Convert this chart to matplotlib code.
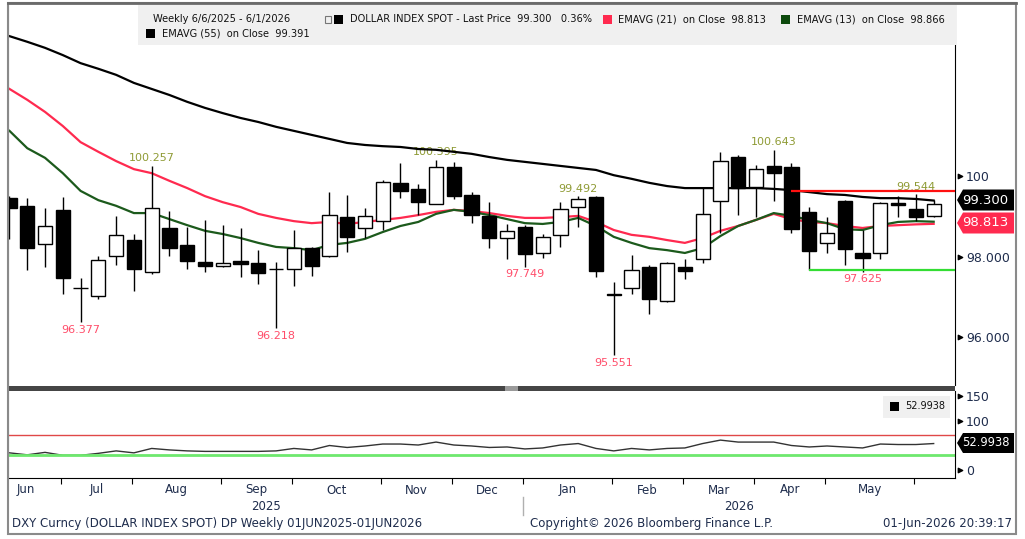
import numpy as np
import pandas as pd
import matplotlib
matplotlib.use('Agg')
import matplotlib.pyplot as plt
from matplotlib.patches import Rectangle, Polygon
from matplotlib.transforms import blended_transform_factory

# weekly bars (week ending friday)
dates = pd.date_range('2025-06-06', periods=53, freq='7D')

opens = [99.45, 99.26, 98.31, 99.16, 97.23, 97.02, 98.01, 98.41, 97.62, 98.71,
         98.29, 97.87, 97.77, 97.89, 97.84, 97.70, 97.69, 98.21, 98.01, 98.98,
         98.71, 98.88, 99.83, 99.68, 99.31, 100.22, 99.53, 99.01, 98.46, 98.73,
         98.09, 98.54, 99.23, 99.48, 97.06, 97.22, 97.74, 96.90, 97.74, 97.94,
         99.38, 100.47, 99.73, 100.25, 100.22, 99.11, 98.34, 99.38, 98.09, 98.09,
         99.33, 99.18, 99.01]
highs = [99.50, 99.45, 99.21, 99.48, 97.47, 98.01, 99.01, 98.56, 100.257, 99.13,
         98.73, 98.91, 98.78, 98.71, 98.16, 97.87, 98.66, 98.23, 99.60, 99.53,
         99.21, 99.90, 100.33, 99.80, 100.395, 100.35, 99.60, 99.35, 98.81, 98.78,
         98.56, 99.35, 99.492, 99.50, 97.37, 98.04, 97.79, 97.87, 97.94, 99.73,
         100.60, 100.52, 100.27, 100.643, 100.32, 99.23, 98.98, 99.40, 98.66, 99.35,
         99.50, 99.544, 99.40]
lows = [98.44, 97.67, 97.74, 97.07, 96.377, 96.95, 97.79, 97.15, 97.57, 98.01,
        97.69, 97.62, 97.74, 97.49, 97.32, 96.218, 97.27, 97.52, 97.99, 98.11,
        98.46, 98.66, 99.45, 99.03, 99.30, 99.43, 98.83, 98.21, 97.94, 97.749,
        97.97, 98.24, 98.73, 97.49, 95.551, 97.07, 96.58, 96.88, 97.44, 97.84,
        98.59, 99.03, 98.98, 99.38, 98.59, 97.66, 98.09, 97.79, 97.625, 97.94,
        98.98, 98.88, 98.98]
closes = [99.21, 98.21, 98.76, 97.47, 97.22, 97.92, 98.54, 97.69, 99.21, 98.21,
          97.89, 97.77, 97.84, 97.82, 97.59, 97.69, 98.21, 97.77, 99.03, 98.49,
          99.01, 99.85, 99.63, 99.35, 100.22, 99.50, 99.03, 98.46, 98.64, 98.06,
          98.49, 99.18, 99.43, 97.64, 97.05, 97.67, 96.95, 97.84, 97.64, 99.06,
          100.37, 99.70, 100.17, 100.07, 98.68, 98.14, 98.59, 98.19, 97.97, 99.33,
          99.28, 98.98, 99.30]

ema55 = [103.47, 103.33, 103.18, 103.00, 102.80, 102.66, 102.51, 102.31, 102.16, 102.01,
         101.84, 101.69, 101.56, 101.44, 101.34, 101.22, 101.12, 101.02, 100.92, 100.82,
         100.77, 100.74, 100.72, 100.67, 100.65, 100.60, 100.55, 100.47, 100.40, 100.35,
         100.30, 100.25, 100.20, 100.15, 100.02, 99.93, 99.83, 99.75, 99.70, 99.70,
         99.70, 99.70, 99.70, 99.68, 99.65, 99.60, 99.55, 99.53, 99.48, 99.45,
         99.45, 99.43, 99.391]
ema21 = [102.16, 101.89, 101.59, 101.24, 100.84, 100.60, 100.37, 100.17, 100.07, 99.88,
         99.70, 99.50, 99.35, 99.23, 99.06, 98.96, 98.88, 98.83, 98.86, 98.81,
         98.86, 98.91, 98.96, 99.03, 99.11, 99.16, 99.13, 99.08, 99.01, 98.96,
         98.96, 98.98, 99.01, 98.86, 98.66, 98.54, 98.49, 98.41, 98.34, 98.46,
         98.64, 98.76, 98.91, 99.06, 98.93, 98.86, 98.83, 98.76, 98.71, 98.76,
         98.78, 98.80, 98.813]
ema13 = [101.12, 100.69, 100.45, 100.07, 99.63, 99.40, 99.26, 99.08, 99.08, 98.93,
         98.78, 98.64, 98.56, 98.46, 98.34, 98.24, 98.21, 98.16, 98.29, 98.34,
         98.44, 98.61, 98.76, 98.86, 99.06, 99.16, 99.11, 99.03, 98.93, 98.83,
         98.81, 98.86, 98.96, 98.76, 98.49, 98.34, 98.21, 98.16, 98.09, 98.21,
         98.51, 98.76, 98.91, 99.08, 99.01, 98.91, 98.83, 98.68, 98.66, 98.78,
         98.86, 98.88, 98.866]
rsi = [34, 30, 35, 29, 29, 33, 38, 34, 43, 40,
       38, 37, 37, 37, 37, 38, 43, 40, 49, 45,
       48, 52, 52, 50, 56, 50, 48, 45, 46, 42,
       44, 50, 53, 43, 38, 43, 40, 43, 44, 53,
       60, 56, 56, 56, 49, 46, 48, 46, 44, 52,
       51, 51, 52.9938]

hi_marks = [8, 24, 32, 43, 51]
lo_marks = [4, 15, 29, 34, 48]
resist_level, resist_from = 99.62, 44
support_level, support_from = 97.66, 45
rsi_upper, rsi_lower = 70, 30

W, H = 1025, 539
NAVY = '#1f2d4d'
plt.rcParams['font.family'] = ['DejaVu Sans']


def fx(x):
    return x / W


def fy(y):
    return 1 - y / H


fig = plt.figure(figsize=(W / 100, H / 100), dpi=100)
fig.patch.set_facecolor('white')

ax = fig.add_axes([fx(8), fy(385), fx(955) - fx(8), fy(5) - fy(385)])
ax2 = fig.add_axes([fx(8), fy(478), fx(955) - fx(8), fy(391) - fy(478)], sharex=ax)

idx = np.arange(len(closes))
o, h, l, c = map(np.array, (opens, highs, lows, closes))

# candles
ax.vlines(idx, l, h, color='black', lw=1, zorder=3)
up = c >= o
bottom = np.minimum(o, c)
height = np.maximum(np.abs(c - o), 0.005)
ax.bar(idx, height, bottom=bottom, width=0.8, color=np.where(up, 'white', 'black'),
       edgecolor='black', lw=1, zorder=4)

ax.plot(idx, ema55, color='black', lw=1.6, zorder=2)
ax.plot(idx, ema21, color='#ff2a4f', lw=1.6, zorder=2)
ax.plot(idx, ema13, color='#1c5a1c', lw=1.6, zorder=2)

ax.hlines(resist_level, resist_from, 53.2, color='#ff1010', lw=1.6, zorder=5)
ax.hlines(support_level, support_from, 53.2, color='#33dd33', lw=1.6, zorder=5)

for i in hi_marks:
    ax.annotate('%.3f' % highs[i], (i, highs[i]), xytext=(0, 2), textcoords='offset points',
                ha='center', va='bottom', fontsize=8, color='#8f9b35', zorder=1)
for i in lo_marks:
    ax.annotate('%.3f' % lows[i], (i, lows[i]), xytext=(0, -2), textcoords='offset points',
                ha='center', va='top', fontsize=8, color='#ff4d6a', zorder=1)

xl = (-0.084, 53.2)
ax.set_xlim(*xl)
ax.set_ylim(94.814, 104.243)
ax.yaxis.tick_right()
ax.set_yticks([96, 98, 100])
ax.set_yticklabels(['96.000', '98.000', '100'])
ax.tick_params(axis='y', length=0, pad=8, labelsize=9, labelcolor=NAVY)
ax.tick_params(axis='x', bottom=False, labelbottom=False)
for s in ('top', 'bottom'):
    ax.spines[s].set_visible(False)
ax.spines['left'].set_color('#8a8a8a')
ax.spines['right'].set_color('black')
tr = blended_transform_factory(ax.transAxes, ax.transData)
ax.scatter([1.005] * 3, [96, 98, 100], marker='>', s=10, color='black', transform=tr,
           clip_on=False, zorder=6)

# lower panel
ax2.plot(idx, rsi, color='#333333', lw=1)
ax2.axhline(rsi_upper, color='#e04848', lw=1)
ax2.axhline(rsi_lower, color='#6ee86e', lw=2)
ax2.set_ylim(-17.3, 160.2)
ax2.yaxis.tick_right()
ax2.set_yticks([0, 100, 150])
ax2.set_yticklabels(['0', '100', '150'])
ax2.tick_params(axis='y', length=0, pad=8, labelsize=9, labelcolor=NAVY)
ax2.spines['top'].set_visible(False)
ax2.spines['left'].set_color('#8a8a8a')
tr2 = blended_transform_factory(ax2.transAxes, ax2.transData)
ax2.scatter([1.005] * 3, [0, 100, 150], marker='>', s=10, color='black', transform=tr2,
            clip_on=False, zorder=6)

# month ticks: one bar before the first bar of each month
first = [k for k in range(1, len(dates)) if dates[k].month != dates[k - 1].month]
ticks = [k - 1.1 for k in first]
ax2.set_xticks(ticks)
ax2.set_xticklabels([])
ax2.tick_params(axis='x', length=4, direction='out', color='black')
trx = blended_transform_factory(ax2.transData, fig.transFigure)
months = ['Jun', 'Jul', 'Aug', 'Sep', 'Oct', 'Nov', 'Dec', 'Jan', 'Feb', 'Mar', 'Apr', 'May']
edges = [ticks[0] - 4] + ticks
for m, a, b in zip(months, edges[:-1], edges[1:]):
    ax2.text((a + b) / 2, fy(490), m, transform=trx, ha='center', va='center',
             fontsize=8.5, color=NAVY)
jan = ticks[first.index(next(k for k in first if dates[k].month == 1))]
ax2.text((xl[0] + jan) / 2, fy(506), '2025', transform=trx, ha='center', va='center',
         fontsize=8.5, color=NAVY)
ax2.text((jan + xl[1]) / 2, fy(506), '2026', transform=trx, ha='center', va='center',
         fontsize=8.5, color=NAVY)
ax2.plot([jan, jan], [fy(497), fy(515)], color='#b0b0b0', lw=1, transform=trx, clip_on=False)

# frame pieces
fig.add_artist(Rectangle((fx(8), fy(391)), fx(955) - fx(8), fy(386) - fy(391),
                         transform=fig.transFigure, color='#454545', lw=0))
fig.add_artist(Rectangle((fx(505), fy(391)), fx(518) - fx(505), fy(386) - fy(391),
                         transform=fig.transFigure, color='#9a9a9a', lw=0))
fig.add_artist(Rectangle((fx(8), fy(534)), fx(1016) - fx(8), fy(3) - fy(534),
                         transform=fig.transFigure, fill=False, edgecolor='#8a8a8a', lw=1.5))
fig.add_artist(plt.Line2D([fx(8), fx(1016)], [fy(3), fy(3)], transform=fig.transFigure,
                          color='#6a6a6a', lw=2))

# legend box
fig.add_artist(Rectangle((fx(138), fy(45)), fx(956) - fx(138), fy(5) - fy(45),
                         transform=fig.transFigure, color='#f0f0f0', lw=0))


def square(x, y, color):
    fig.add_artist(Rectangle((fx(x), fy(y + 4.5)), fx(9), fy(0) - fy(9),
                             transform=fig.transFigure, color=color, lw=0))


def ftext(x, y, s, **kw):
    kw.setdefault('fontsize', 7.1)
    kw.setdefault('color', '#111111')
    fig.text(fx(x), fy(y), s, ha=kw.pop('ha', 'left'), va='center', **kw)


ftext(153, 19, 'Weekly 6/6/2025 - 6/1/2026')
fig.add_artist(Rectangle((fx(325), fy(23)), fx(6), fy(0) - fy(7), transform=fig.transFigure,
                         fill=False, edgecolor='#777777', lw=0.8))
square(334, 19, 'black')
ftext(350, 19, 'DOLLAR INDEX SPOT - Last Price  99.300   0.36%')
square(603, 19, '#ff2a4f')
ftext(618, 19, 'EMAVG (21)  on Close  98.813')
square(781, 19, '#0d4a0d')
ftext(797, 19, 'EMAVG (13)  on Close  98.866')
square(146, 33, 'black')
ftext(162, 33, 'EMAVG (55)  on Close  99.391')

# lower legend
fig.add_artist(Rectangle((fx(883), fy(418)), fx(950) - fx(883), fy(396) - fy(418),
                         transform=fig.transFigure, color='#f0f0f0', lw=0))
square(890, 406, 'black')
ftext(905, 406, '52.9938', fontsize=7)


def tag(yc, s, color, tc='white', x0=957, x1=1014, hh=10.5, fs=9.5):
    pts = [(x0, yc), (x0 + 6, yc - hh), (x1, yc - hh), (x1, yc + hh), (x0 + 6, yc + hh)]
    fig.add_artist(Polygon([(fx(a), fy(b)) for a, b in pts], closed=True,
                           transform=fig.transFigure, color=color, lw=0))
    ftext(x0 + 5, yc, s, color=tc, fontsize=fs)


tag(200, '99.300', 'black')
tag(223, '98.813', '#ff2a4f')
tag(443, '52.9938', 'black', hh=10, fs=8.3)

# footer
ftext(12, 524, 'DXY Curncy (DOLLAR INDEX SPOT) DP Weekly 01JUN2025-01JUN2026',
      fontsize=8.5, color=NAVY)
ftext(530, 524, 'Copyright\u00a9 2026 Bloomberg Finance L.P.', fontsize=8.5, color=NAVY)
ftext(1012, 524, '01-Jun-2026 20:39:17', fontsize=8.5, color=NAVY, ha='right')

fig.savefig('out.png', dpi=100)
